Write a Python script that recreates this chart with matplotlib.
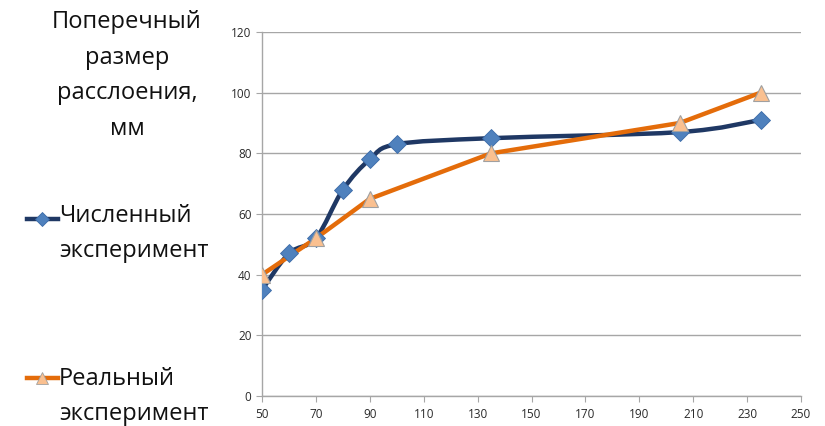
import matplotlib.pyplot as plt
import numpy as np
from matplotlib.path import Path
from matplotlib.patches import PathPatch
from matplotlib.lines import Line2D

# data
num_x = [50, 60, 70, 80, 90, 100, 135, 205, 235]
num_y = [35, 47, 52, 68, 78, 83, 85, 87, 91]
real_x = [50, 70, 90, 135, 205, 235]
real_y = [40, 52, 65, 80, 90, 100]

y_label = "Поперечный\nразмер\nрасслоения,\nмм"
num_label = "Численный\nэксперимент"
real_label = "Реальный\nэксперимент"

navy = '#1f3864'
blue = '#4f81bd'
orange = '#e46c0a'
peach = '#fac090'
grid = '#a6a6a6'

plt.rcParams['font.family'] = ['Open Sans', 'DejaVu Sans']

fig = plt.figure(figsize=(8.25, 4.26), dpi=100)
ax = fig.add_axes([262 / 825, 30 / 426, 539 / 825, 364 / 426])


def smooth_path(xs, ys):
    # Excel-like smoothed line: Catmull-Rom segments as cubic Bezier curves
    pts = np.column_stack([xs, ys]).astype(float)
    verts = [pts[0]]
    codes = [Path.MOVETO]
    n = len(pts)
    for i in range(n - 1):
        p0 = pts[i - 1] if i > 0 else pts[i]
        p1 = pts[i]
        p2 = pts[i + 1]
        p3 = pts[i + 2] if i + 2 < n else pts[i + 1]
        c1 = p1 + (p2 - p0) / 6
        c2 = p2 - (p3 - p1) / 6
        verts += [c1, c2, p2]
        codes += [Path.CURVE4] * 3
    return Path(verts, codes)


ax.add_patch(PathPatch(smooth_path(num_x, num_y), fill=False, edgecolor=navy,
                       lw=3.2, capstyle='round', joinstyle='round', zorder=3))
ax.plot(num_x, num_y, ls='none', marker='D', ms=9, mfc=blue, mec='#3a6aa8',
        mew=0.6, zorder=4)

ax.plot(real_x, real_y, color=orange, lw=3.2, solid_capstyle='round', zorder=3)
ax.plot(real_x, real_y, ls='none', marker='^', ms=12, mfc=peach, mec='#a0a0a0',
        mew=0.8, zorder=5)

ax.set_xlim(50, 250)
ax.set_ylim(0, 120)
ax.set_xticks(range(50, 251, 20))
ax.set_yticks(range(0, 121, 20))
ax.grid(axis='y', color=grid, lw=1)
ax.set_axisbelow(True)
for s in ['top', 'right']:
    ax.spines[s].set_visible(False)
for s in ['left', 'bottom']:
    ax.spines[s].set_color(grid)
    ax.spines[s].set_linewidth(1)
ax.tick_params(axis='both', colors=grid, labelcolor='#2a2a2a', labelsize=8.5,
               length=4, direction='out')
ax.tick_params(axis='x', pad=5)

# axis title at the upper left
fig.text(127 / 825, 1 - 10 / 426, y_label, ha='center', va='top', fontsize=17,
         linespacing=1.65, color='#111111')

# legend drawn by hand
def legend_entry(y_px, text_px, label, color, marker, mfc, mec, ms):
    y = 1 - y_px / 426
    fig.add_artist(Line2D([27 / 825, 58 / 825], [y, y], color=color, lw=3.2,
                          transform=fig.transFigure))
    fig.add_artist(Line2D([42 / 825], [y], ls='none', marker=marker, ms=ms,
                          mfc=mfc, mec=mec, mew=0.6, transform=fig.transFigure))
    fig.text(59 / 825, 1 - text_px / 426, label, ha='left', va='top',
             fontsize=17, linespacing=1.6, color='#111111')


legend_entry(219, 204, num_label, navy, 'D', blue, '#3a6aa8', 7)
legend_entry(378, 367, real_label, orange, '^', peach, '#a0a0a0', 9)

fig.savefig('out.png', dpi=100)
